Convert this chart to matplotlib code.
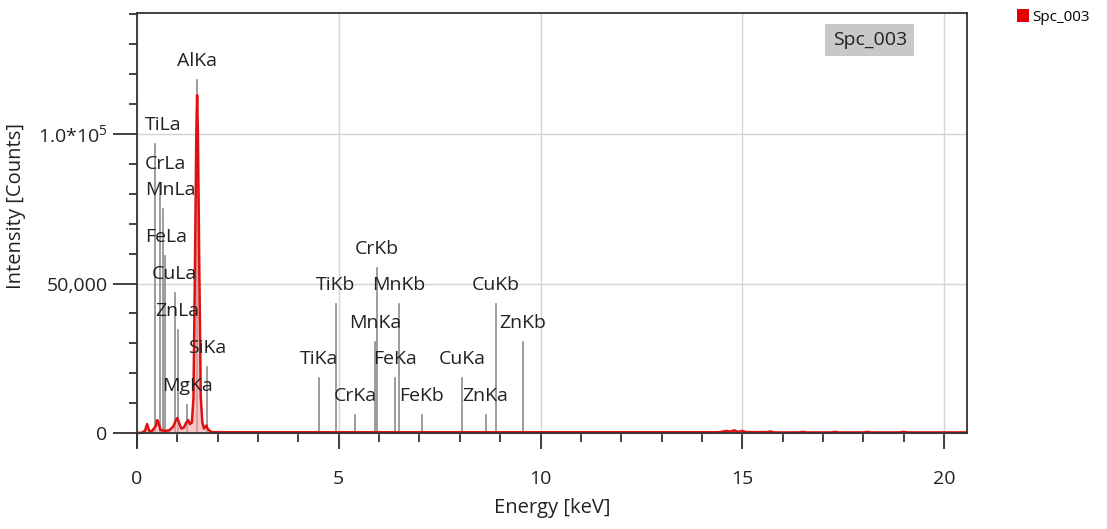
import matplotlib
matplotlib.use("Agg")
import matplotlib.pyplot as plt
from matplotlib.patches import Patch
from matplotlib.ticker import MultipleLocator, FixedLocator, FixedFormatter

plt.rcParams['font.family'] = ['Open Sans', 'DejaVu Sans']
plt.rcParams['mathtext.fontset'] = 'custom'
plt.rcParams['mathtext.rm'] = 'Open Sans'

# spectrum trace (keV, counts)
spec_e = [0.0, 0.12, 0.2, 0.25, 0.3, 0.36, 0.42, 0.47, 0.5, 0.54, 0.58, 0.7, 0.8, 0.9,
          0.97, 1.0, 1.04, 1.1, 1.16, 1.22, 1.27, 1.31, 1.36, 1.4, 1.44, 1.47, 1.49,
          1.51, 1.54, 1.58, 1.62, 1.66, 1.72, 1.76, 1.85, 2.2, 14.4, 14.5, 14.6, 14.7,
          14.8, 14.9, 15.0, 15.1, 15.6, 15.7, 15.8, 16.4, 16.5, 16.6, 17.2, 17.3, 17.4,
          18.0, 18.1, 18.2, 18.9, 19.0, 19.1, 20.6]
spec_c = [0, 100, 800, 3000, 800, 500, 1500, 2500, 4300, 3200, 1000, 700, 900, 2200,
          4500, 5000, 3500, 1500, 1800, 3500, 4300, 3000, 3500, 12000, 60000, 100000, 113000,
          100000, 60000, 12000, 3500, 1500, 2500, 1200, 300, 250, 250, 400, 700, 450,
          900, 350, 700, 300, 300, 500, 200, 200, 400, 200, 200, 400, 200,
          200, 400, 200, 200, 400, 200, 200]

# element line markers
line_names = ['TiLa', 'CrLa', 'MnLa', 'FeLa', 'CuLa', 'ZnLa', 'MgKa', 'AlKa', 'SiKa',
              'TiKa', 'TiKb', 'CrKa', 'CrKb', 'MnKa', 'MnKb', 'FeKa', 'FeKb',
              'CuKa', 'ZnKa', 'CuKb', 'ZnKb']
line_e = [0.45, 0.57, 0.64, 0.70, 0.93, 1.01, 1.25, 1.49, 1.74,
          4.51, 4.93, 5.41, 5.95, 5.90, 6.49, 6.40, 7.06,
          8.05, 8.64, 8.90, 9.57]
line_h = [96700, 83700, 75000, 59300, 46700, 34300, 9500, 118000, 22000,
          18300, 43300, 6000, 55300, 30300, 43300, 18300, 6000,
          18300, 6000, 43000, 30300]

fig = plt.figure(figsize=(11.07, 5.29), dpi=100)
ax = fig.add_axes([137/1107, 1-447/529, 830/1107, 434/529])

ax.set_xlim(0, 20.57)
ax.set_ylim(-4680, 140500)

for e, h in zip(line_e, line_h):
    ax.plot([e, e], [0, h], color='#8c8c8c', lw=1.2, zorder=1.5)

ax.fill_between(spec_e, 0, spec_c, color='#f4a0a0', alpha=0.6, lw=0, zorder=1.8)
ax.plot(spec_e, spec_c, color='#e01010', lw=1.8, zorder=2)

texts = []
for name, e, h in zip(line_names, line_e, line_h):
    t = ax.annotate(name, (e, h), xytext=(0, 19), textcoords='offset pixels',
                    ha='center', va='center', fontsize=14, color='#222222')
    texts.append(t)

# spines: bottom at zero, right stops at zero
ax.spines['bottom'].set_position(('data', 0))
ax.spines['right'].set_bounds(0, 140500)
for s in ax.spines.values():
    s.set_color('#333333')
    s.set_linewidth(1.3)

ax.xaxis.set_major_locator(MultipleLocator(5))
ax.xaxis.set_minor_locator(MultipleLocator(1))
ax.yaxis.set_major_locator(FixedLocator([0, 50000, 100000]))
ax.yaxis.set_major_formatter(FixedFormatter(['0', '50,000', '1.0*10$^{5}$']))
ax.yaxis.set_minor_locator(MultipleLocator(10000))
ax.tick_params(axis='x', which='major', direction='out', length=11.5, width=1.3,
               color='#333333', labelsize=14, pad=15, labelcolor='#222222')
ax.tick_params(axis='x', which='minor', direction='out', length=6.5, width=1.3, color='#333333')
ax.tick_params(axis='y', which='major', direction='out', length=17.3, width=1.3,
               color='#333333', labelsize=14, pad=4, labelcolor='#222222')
ax.tick_params(axis='y', which='minor', direction='out', length=5.5, width=1.3, color='#333333')

ax.grid(True, which='major', color='#d4d4d4', lw=1.0, zorder=0)
ax.set_axisbelow(True)

ax.set_xlabel('Energy [keV]', fontsize=14.5, color='#222222', labelpad=7)
ax.set_ylabel('Intensity [Counts]', fontsize=14.5, color='#222222')
ax.yaxis.set_label_coords(-0.134, 0.555)

ax.text(0.883, 0.938, 'Spc_003', transform=ax.transAxes, ha='center', va='center',
        fontsize=14, color='#222222',
        bbox=dict(boxstyle='square,pad=0.38', facecolor='#c8c8c8', edgecolor='none'))

fig.legend(handles=[Patch(facecolor='#e00000')], labels=['Spc_003'],
           loc='upper left', bbox_to_anchor=(1008/1107, 1.0), frameon=False,
           handlelength=0.8, handleheight=0.9, handletextpad=0.2, fontsize=11,
           borderaxespad=0.2)

# keep marker labels inside the left edge of the plot
fig.canvas.draw()
r = fig.canvas.get_renderer()
left_px = ax.get_window_extent(r).x0 + 8
for t in texts:
    bb = t.get_window_extent(r)
    if bb.x0 < left_px:
        t.xyann = (left_px - bb.x0, 19)

fig.savefig('out.png', dpi=100, facecolor='white')
